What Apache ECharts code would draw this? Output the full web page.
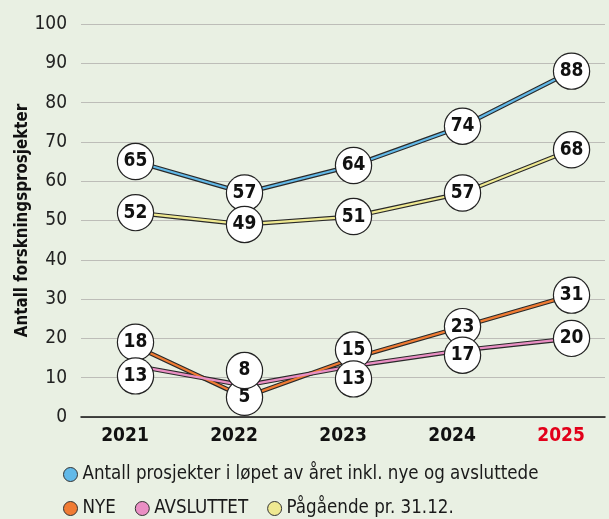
<!DOCTYPE html>
<html lang="no">
<head>
    <meta charset="UTF-8">
    <title>Forskningsprosjekter</title>
    <script src="https://cdn.jsdelivr.net/npm/echarts@6/dist/echarts.min.js"></script>
    <style>
        html, body { margin: 0; padding: 0; background: #e9f0e3; }
        #container { width: 609px; height: 519px; }
    </style>
</head>
<body>
<div id="container"></div>
<script>
    var years = ['2021', '2022', '2023', '2024', '2025'];
    var totalInYear = [65, 57, 64, 74, 88];
    var newProjects = [18, 5, 15, 23, 31];
    var finished = [13, 8, 13, 17, 20];
    var ongoing = [52, 49, 51, 57, 68];
    var yTicks = [0, 10, 20, 30, 40, 50, 60, 70, 80, 90, 100];

    var names = [
        'Antall prosjekter i løpet av året inkl. nye og avsluttede',
        'NYE',
        'AVSLUTTET',
        'Pågående pr. 31.12.'
    ];
    var colors = ['#62b9e8', '#f07b33', '#ea8fc4', '#efe991'];

    // vertical nudges (px) so the circles don't sit on top of each other
    var nudgeNew = [-4, 0, -8, 0, 0];
    var nudgeFinished = [10, -15, 13, 5, 0];

    var font = "'Liberation Sans Narrow', 'DejaVu Sans Condensed', 'Noto Sans', sans-serif";

    // x is a value axis over the year index so the points can sit off-centre
    function pairs(values) {
        return values.map(function (v, i) { return [i, v]; });
    }

    function outline(values) {
        return {
            type: 'line',
            name: 'outline',
            data: pairs(values),
            symbol: 'none',
            silent: true,
            z: 1,
            lineStyle: { color: '#2a2a2a', width: 4.5 }
        };
    }

    function line(name, values, color, nudge) {
        return {
            type: 'line',
            name: name,
            z: 2,
            silent: true,
            symbol: 'circle',
            symbolSize: 1,
            itemStyle: { color: color },
            lineStyle: { color: color, width: 2.2 },
            data: values.map(function (v, i) {
                return { value: [i, v], label: { offset: [0, nudge ? nudge[i] : 0] } };
            }),
            label: {
                show: true,
                position: 'inside',
                formatter: function (p) { return p.value[1]; },
                fontFamily: font,
                fontSize: 19,
                fontWeight: 'bold',
                color: '#111',
                backgroundColor: '#fff',
                borderColor: '#222',
                borderWidth: 1.2,
                borderRadius: 18,
                width: 35,
                height: 35,
                lineHeight: 35,
                align: 'center',
                verticalAlign: 'middle'
            }
        };
    }

    var chart = echarts.init(document.getElementById('container'));
    chart.setOption({
        animation: false,
        backgroundColor: '#e9f0e3',
        textStyle: { fontFamily: font },
        grid: { left: 81, right: 4, top: 24, bottom: 102 },
        legend: [
            {
                data: [names[0]],
                left: 58, top: 460,
                icon: 'circle', itemWidth: 14, itemHeight: 14,
                itemStyle: { borderColor: '#333', borderWidth: 1 },
                textStyle: { fontSize: 18.6, color: '#1a1a1a', fontFamily: font },
                selectedMode: false
            },
            {
                data: [names[1], names[2], names[3]],
                left: 58, top: 494, itemGap: 19,
                icon: 'circle', itemWidth: 14, itemHeight: 14,
                itemStyle: { borderColor: '#333', borderWidth: 1 },
                textStyle: { fontSize: 18.6, color: '#1a1a1a', fontFamily: font },
                selectedMode: false
            }
        ],
        xAxis: {
            type: 'value',
            min: -0.5,
            max: 4.307,
            axisLine: { lineStyle: { color: '#111', width: 1.5 } },
            axisTick: { show: false },
            splitLine: { show: false },
            axisLabel: {
                customValues: [0, 1, 2, 3, 4],
                formatter: function (v) { return years[v]; },
                margin: 10,
                fontSize: 19,
                fontWeight: 'bold',
                fontFamily: font,
                padding: [0, 21, 0, 0],
                color: function (v) { return Number(v) === 4 ? '#e2001a' : '#111'; }
            }
        },
        yAxis: {
            type: 'value', min: yTicks[0], max: yTicks[yTicks.length - 1], interval: 10,
            name: 'Antall forskningsprosjekter',
            nameLocation: 'middle',
            nameGap: 50,
            nameMoveOverlap: false,
            nameTextStyle: { fontSize: 16.8, fontWeight: 'bold', color: '#111', fontFamily: font },
            axisLine: { show: false },
            axisTick: { show: false },
            axisLabel: { fontSize: 19, color: '#222', margin: 14, fontFamily: font },
            splitLine: { lineStyle: { color: '#bdbdb8', width: 1.2 } }
        },
        series: [
            outline(totalInYear),
            outline(ongoing),
            outline(newProjects),
            outline(finished),
            line(names[0], totalInYear, colors[0]),
            line(names[3], ongoing, colors[3]),
            line(names[1], newProjects, colors[1], nudgeNew),
            line(names[2], finished, colors[2], nudgeFinished)
        ]
    });
</script>
</body>
</html>
